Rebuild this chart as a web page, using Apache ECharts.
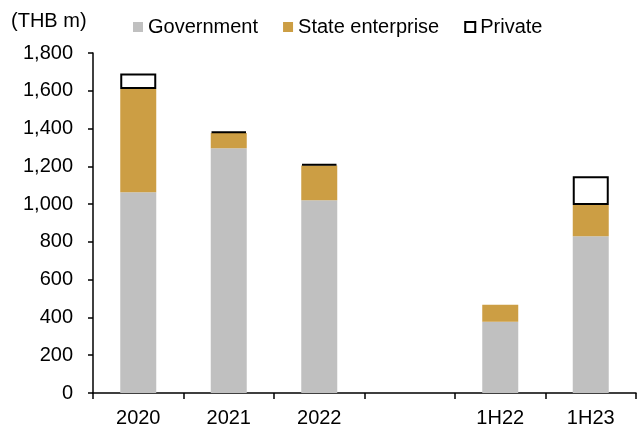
<!DOCTYPE html>
<html style="height: 100%">
<head>
    <meta charset="utf-8">
</head>
<body style="height: 100%; margin: 0; background: #fff">
<div id="container" style="width: 640px; height: 428px"></div>
<script type="text/javascript" src="https://cdn.jsdelivr.net/npm/echarts@6.0.0/dist/echarts.min.js"></script>
<script type="text/javascript">
  // categories (the empty one is the gap between full years and half years)
  const categories = ['2020', '2021', '2022', '', '1H22', '1H23'];
  const government = [1063, 1296, 1021, null, 377, 830];
  const stateEnterprise = [546, 80, 184, null, 90, 165];
  const privateSector = [83, 8, 8, null, null, 153];
  const yTicks = { min: 0, max: 1800, step: 200 };

  const font = 'Liberation Sans, Arial, sans-serif';
  var dom = document.getElementById('container');
  var myChart = echarts.init(dom);
  var option;

  option = {
    animation: false,
    textStyle: { fontFamily: font },
    title: {
      text: '(THB m)',
      left: 6,
      top: 11,
      padding: [0, 5],
      textStyle: { fontFamily: font, fontSize: 20, fontWeight: 'normal', color: '#000' }
    },
    legend: {
      left: 128,
      top: 12,
      itemWidth: 10,
      itemHeight: 10,
      itemGap: 25,
      icon: 'rect',
      textStyle: { fontFamily: font, fontSize: 20, color: '#000' },
      data: ['Government', 'State enterprise', 'Private']
    },
    grid: { left: 93, right: 4, top: 53, bottom: 34, containLabel: false },
    xAxis: {
      type: 'category',
      data: categories,
      boundaryGap: true,
      axisLine: { lineStyle: { color: '#000', width: 1.5 } },
      axisTick: { show: true, length: 6, lineStyle: { color: '#000', width: 1.5 } },
      axisLabel: { color: '#000', fontSize: 20, fontFamily: font, margin: 15 }
    },
    yAxis: {
      type: 'value',
      min: yTicks.min,
      max: yTicks.max,
      interval: yTicks.step,
      splitLine: { show: false },
      axisLine: { show: true, lineStyle: { color: '#000', width: 1.5 } },
      axisTick: { show: true, length: 5, lineStyle: { color: '#000', width: 1.5 } },
      axisLabel: {
        color: '#000',
        fontSize: 20,
        fontFamily: font,
        margin: 20,
        formatter: function (v) { return v.toLocaleString('en-US'); }
      }
    },
    series: [
      {
        name: 'Government',
        type: 'bar',
        stack: 'total',
        barWidth: 36,
        itemStyle: { color: '#c0c0c0' },
        data: government
      },
      {
        name: 'State enterprise',
        type: 'bar',
        stack: 'total',
        barWidth: 36,
        itemStyle: { color: '#cc9e44' },
        data: stateEnterprise
      },
      {
        name: 'Private',
        type: 'bar',
        stack: 'total',
        barWidth: 36,
        itemStyle: { color: '#fff', borderColor: '#000', borderWidth: 2 },
        data: privateSector
      }
    ]
  };

  if (option && typeof option === 'object') {
    myChart.setOption(option);
  }
</script>
</body>
</html>
